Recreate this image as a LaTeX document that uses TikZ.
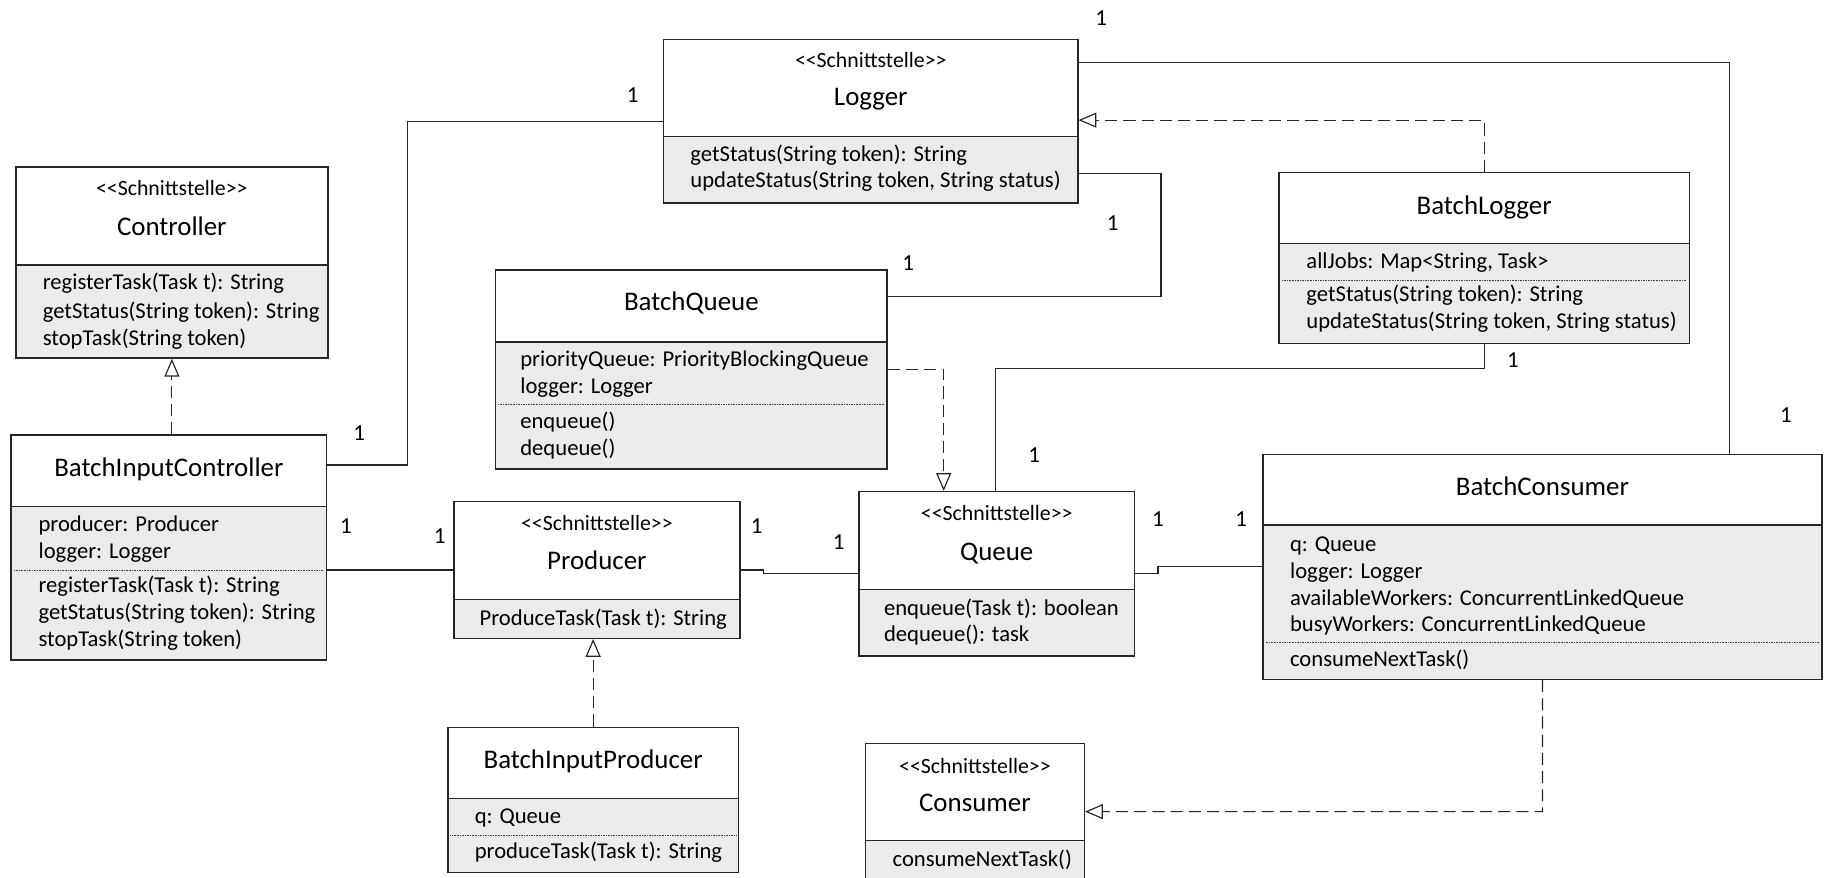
\documentclass[tikz,border=0pt]{standalone}
\usepackage{fontspec}
\setmainfont{Carlito}
\usetikzlibrary{arrows.meta,fit}
\begin{document}
\begin{tikzpicture}[x=0.25mm,y=-0.25mm,
  frame/.style={draw=black!85, line width=0.9pt, inner sep=0pt, fit={#1}},
  membg/.style={fill=black!8},
  sepline/.style={draw=black!85, line width=0.9pt},
  dotsep/.style={draw=black!75, line width=0.5pt, dash pattern=on 0.5pt off 0.5pt},
  stereo/.style={font=\fontsize{13.3}{15}\selectfont, inner sep=0pt, text height=0.75em, text depth=0.1em},
  cname/.style={font=\fontsize{16.4}{19}\selectfont, inner sep=0pt, text height=0.75em, text depth=0.1em},
  member/.style={font=\fontsize{13.8}{16.3}\selectfont, inner sep=0pt, anchor=west, text height=0.75em, text depth=0.1em},
  mult/.style={font=\fontsize{14}{16}\selectfont, inner sep=0pt},
  assoc/.style={draw=black!85, line width=0.7pt},
  real/.style={draw=black!85, line width=0.7pt, dash pattern=on 2.6mm off 1.3mm,
    -{Triangle[open, length=3.8mm, width=3.2mm, line width=0.7pt]}}
]
\useasboundingbox (0,0) rectangle (1568,752);
\newcommand{\stt}{<\kern0pt<Schnittstelle>\kern0pt>}

% ---------- Controller ----------
\fill[membg] (13.7,227) rectangle (281,307);
\node[frame={(13.7,143) (281,307)}] (ctrl) {};
\draw[sepline] (13.7,227) -- (281,227);
\node[stereo] (ctrlS) at (147.3,163) {\stt};
\node[cname] (ctrlN) at (147.3,197) {Controller};
\node[member] (ctrl1) at (36.4,244) {registerTask(Task t): String};
\node[member] (ctrl2) at (36.4,268.5) {getStatus(String token): String};
\node[member] (ctrl3) at (36.4,291.5) {stopTask(String token)};

% ---------- BatchInputController ----------
\fill[membg] (9.6,434) rectangle (280,566);
\node[frame={(9.6,373) (280,566)}] (bic) {};
\draw[sepline] (9.6,434) -- (280,434);
\node[cname] (bicN) at (144.8,404) {BatchInputController};
\node[member] (bic1) at (32.8,451.5) {producer: Producer};
\node[member] (bic2) at (32.8,474) {logger: Logger};
\draw[dotsep] (12,488.6) -- (277,488.6);
\node[member] (bic3) at (32.8,503) {registerTask(Task t): String};
\node[member] (bic4) at (32.8,526.6) {getStatus(String token): String};
\node[member] (bic5) at (32.8,549.5) {stopTask(String token)};

% ---------- Logger ----------
\fill[membg] (569,117) rectangle (924,174);
\node[frame={(569,34) (924,174)}] (logger) {};
\draw[sepline] (569,117) -- (924,117);
\node[stereo] (logS) at (746.5,53) {\stt};
\node[cname] (logN) at (746.5,86) {Logger};
\node[member] (log1) at (591.6,134) {getStatus(String token): String};
\node[member] (log2) at (591.6,156.6) {updateStatus(String token, String status)};

% ---------- BatchQueue ----------
\fill[membg] (424.8,293) rectangle (760.6,402);
\node[frame={(424.8,231.5) (760.6,402)}] (bq) {};
\draw[sepline] (424.8,293) -- (760.6,293);
\node[cname] (bqN) at (592.7,261.5) {BatchQueue};
\node[member] (bq1) at (445.8,310) {priorityQueue: PriorityBlockingQueue};
\node[member] (bq2) at (445.8,333) {logger: Logger};
\draw[dotsep] (427,347) -- (758,347);
\node[member] (bq3) at (445.8,363) {enqueue()};
\node[member] (bq4) at (445.8,385.8) {dequeue()};

% ---------- BatchLogger ----------
\fill[membg] (1096.5,208.6) rectangle (1448.3,294.3);
\node[frame={(1096.5,148) (1448.3,294.3)}] (blog) {};
\draw[sepline] (1096.5,208.6) -- (1448.3,208.6);
\node[cname] (blogN) at (1272.4,179.4) {BatchLogger};
\node[member] (blog1) at (1119.7,225.7) {allJobs: Map<String, Task>};
\draw[dotsep] (1099,240) -- (1446,240);
\node[member] (blog2) at (1119.7,254.3) {getStatus(String token): String};
\node[member] (blog3) at (1119.7,277.2) {updateStatus(String token, String status)};

% ---------- Producer ----------
\fill[membg] (389.3,513.8) rectangle (634.2,547.2);
\node[frame={(389.3,430) (634.2,547.2)}] (prod) {};
\draw[sepline] (389.3,513.8) -- (634.2,513.8);
\node[stereo] (prodS) at (511.7,450) {\stt};
\node[cname] (prodN) at (511.7,483.5) {Producer};
\node[member] (prod1) at (411,531.5) {ProduceTask(Task t): String};

% ---------- Queue ----------
\fill[membg] (736.4,505.2) rectangle (972.7,562.4);
\node[frame={(736.4,421.5) (972.7,562.4)}] (queue) {};
\draw[sepline] (736.4,505.2) -- (972.7,505.2);
\node[stereo] (queueS) at (854.5,441.5) {\stt};
\node[cname] (queueN) at (854.5,475.8) {Queue};
\node[member] (queue1) at (757.6,523) {enqueue(Task t): boolean};
\node[member] (queue2) at (757.6,545.8) {dequeue(): task};

% ---------- BatchConsumer ----------
\fill[membg] (1082.7,450) rectangle (1562,582.4);
\node[frame={(1082.7,389.5) (1562,582.4)}] (bc) {};
\draw[sepline] (1082.7,450) -- (1562,450);
\node[cname] (bcN) at (1322.3,420) {BatchConsumer};
\node[member] (bc1) at (1105.7,468) {q: Queue};
\node[member] (bc2) at (1105.7,491) {logger: Logger};
\node[member] (bc3) at (1105.7,514.4) {availableWorkers: ConcurrentLinkedQueue};
\node[member] (bc4) at (1105.7,537.2) {busyWorkers: ConcurrentLinkedQueue};
\draw[dotsep] (1085,551) -- (1560,551);
\node[member] (bc5) at (1105.7,566.4) {consumeNextTask()};

% ---------- BatchInputProducer ----------
\fill[membg] (384,684.4) rectangle (633,748);
\node[frame={(384,623.5) (633,748)}] (bip) {};
\draw[sepline] (384,684.4) -- (633,684.4);
\node[cname] (bipN) at (508.5,654.4) {BatchInputProducer};
\node[member] (bip1) at (406.8,701.5) {q: Queue};
\draw[dotsep] (386,715.8) -- (631,715.8);
\node[member] (bip2) at (406.8,731.5) {produceTask(Task t): String};

% ---------- Consumer ----------
\fill[membg] (742,720.7) rectangle (929.6,760);
\node[frame={(742,637.2) (929.6,760)}] (cons) {};
\draw[sepline] (742,720.7) -- (929.6,720.7);
\node[stereo] (consS) at (835.8,658.7) {\stt};
\node[cname] (consN) at (835.8,691) {Consumer};
\node[member] (cons1) at (765,738.7) {consumeNextTask()};

% ---------- bend points ----------
\coordinate (a1a) at (349.5,398.6);
\coordinate (a1b) at (349.5,104.3);
\coordinate (a2a) at (995.3,254.3);
\coordinate (a2b) at (995.3,148.6);
\coordinate (a3a) at (1483,53.7);
\coordinate (r4) at (1272.4,103);
\coordinate (r5) at (809,316.6);
\coordinate (a6a) at (853.4,315.8);
\coordinate (a6b) at (1272.4,315.8);
\coordinate (a8) at (0,488.6);
\coordinate (a9a) at (654.8,488.6);
\coordinate (a9b) at (654.8,492);
\coordinate (a10a) at (992.7,492);
\coordinate (a10b) at (992.7,485.8);
\coordinate (r12) at (1322.4,695.8);

% ---------- associations ----------
\draw[assoc] (bic.east |- a1a) -- (a1a) -- (a1b) -- (logger.west |- a1b);
\draw[assoc] (bq.east |- a2a) -- (a2a) -- (a2b) -- (logger.east |- a2b);
\draw[assoc] (logger.east |- a3a) -- (a3a) -- (bc.north -| a3a);
\draw[assoc] (queue.north -| a6a) -- (a6a) -- (a6b) -- (blog.south);
\draw[assoc] (bic.east |- a8) -- (prod.west |- a8);
\draw[assoc] (prod.east |- a9a) -- (a9a) -- (a9b) -- (queue.west |- a9b);
\draw[assoc] (queue.east |- a10a) -- (a10a) -- (a10b) -- (bc.west |- a10b);

% ---------- realizations ----------
\draw[real] (blog.north) -- (blog.north |- r4) -- (logger.east |- r4);
\draw[real] (bq.east |- r5) -- (r5) -- (queue.north -| r5);
\draw[real] (bic.north -| ctrl.south) -- (ctrl.south);
\draw[real] (bip.north) -- (bip.north |- prod.south);
\draw[real] (bc.south) -- (r12) -- (cons.east |- r12);

% ---------- multiplicities ----------
\node[mult] (m1) at (542.3,81.4) {1};
\node[mult] (m2) at (308,371.5) {1};
\node[mult] (m3) at (778.5,225.7) {1};
\node[mult] (m4) at (954,191.5) {1};
\node[mult] (m5) at (944,15.7) {1};
\node[mult] (m6) at (1531,356) {1};
\node[mult] (m7) at (886.5,390) {1};
\node[mult] (m8) at (1297,308.6) {1};
\node[mult] (m9) at (296.5,451) {1};
\node[mult] (m10) at (377,460) {1};
\node[mult] (m11) at (648.6,451) {1};
\node[mult] (m12) at (719,465) {1};
\node[mult] (m13) at (992.7,445) {1};
\node[mult] (m14) at (1064,445) {1};
\end{tikzpicture}
\end{document}
